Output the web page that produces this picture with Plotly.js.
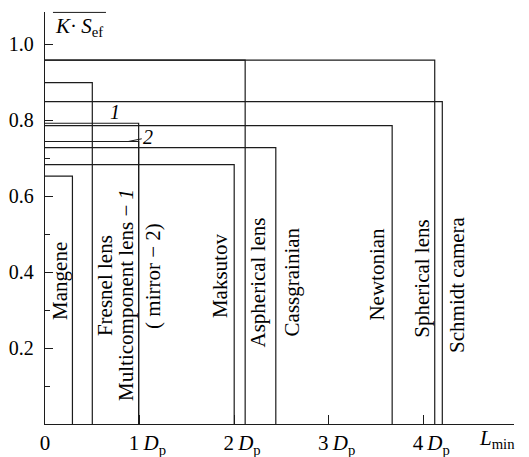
<!DOCTYPE html>
<html>
<head>
<meta charset="utf-8">
<script src="https://cdn.plot.ly/plotly-3.0.1.min.js"></script>
<style>html,body{margin:0;padding:0;background:#fff;}#chart{width:529px;height:457px;}</style>
</head>
<body>
<div id="chart"></div>
<script>
// ---- data ----
const systems = ["Mangene", "Fresnel lens", "Multicomponent lens", "Mirror", "Maksutov",
                 "Aspherical lens", "Cassgrainian", "Newtonian", "Spherical lens", "Schmidt camera"];
const lMin   = [0.29, 0.50, 0.99, 0.99, 2.00, 2.116, 2.44, 3.67, 4.12, 4.20];   // L_min in units of D_p
const kSef   = [0.653, 0.899, 0.792, 0.744, 0.683, 0.958, 0.728, 0.786, 0.958, 0.849]; // K·S_ef
const labelTexts = ["Mangene", "Fresnel lens", "Multicomponent lens − <i>1</i>", "( mirror − 2)", "Maksutov",
                    "Aspherical lens", "Cassgrainian", "Newtonian", "Spherical lens", "Schmidt camera"];
const xTickVals = [0, 1, 2, 3, 4];
const xTickText = ["0", "1\u2009<i>D</i><sub>p</sub>", "2\u2009<i>D</i><sub>p</sub>", "3\u2009<i>D</i><sub>p</sub>", "4\u2009<i>D</i><sub>p</sub>"];
const yTickVals = [0.2, 0.4, 0.6, 0.8, 1.0];
const yTickText = ["0.2", "0.4", "0.6", "0.8", "1.0"];

// ---- style / placement ----
const FONT = "Liberation Serif, Times New Roman, serif";
const INK = "#1c1c1c";
const X_MAX = 4.958, Y_MAX = 1.085;
const labelSide  = [-1, 1, -1, 1, -1, 1, 1, -1, -1, 1];       // left/right of own line
const labelShift = [12, 12, 12, 15, 14, 13, 16, 15, 13, 14];   // px from line
const labelMidY  = [0.378, 0.364, 0.339, 0.389, 0.390, 0.373, 0.375, 0.394, 0.382, 0.367];
const pad = "\u00a0\u00a0\u00a0";

const traces = systems.map((name, i) => ({
  type: "scatter", mode: "lines", name: name,
  x: [0, lMin[i], lMin[i]], y: [kSef[i], kSef[i], 0],
  line: {color: INK, width: 1.2}, hoverinfo: "skip", showlegend: false, cliponaxis: false
}));

const annotations = labelTexts.map((t, i) => ({
  xref: "x", yref: "y", x: lMin[i], y: labelMidY[i], xshift: labelSide[i] * labelShift[i],
  text: t, textangle: -90, showarrow: false, xanchor: "center", yanchor: "middle",
  font: {family: FONT, size: 21, color: "#000"}
}));
// curve numbers 1 and 2
annotations.push({xref: "x", yref: "y", x: lMin[2], y: kSef[2], xshift: -24, yshift: 11,
  text: "<i>1</i>", showarrow: false, font: {family: FONT, size: 20, color: "#000"}});
annotations.push({xref: "x", yref: "y", x: lMin[3] - 0.11, y: kSef[3], ax: 20, ay: -4,
  text: "<i>2</i>", showarrow: true, arrowhead: 0, arrowwidth: 1, arrowcolor: INK, standoff: 0,
  font: {family: FONT, size: 20, color: "#000"}});
// axis titles
annotations.push({xref: "paper", yref: "paper", x: 0.018, y: 1.0, xanchor: "left", yanchor: "top",
  text: "<i>K</i>·\u2009<i>S</i><sub>ef</sub>", showarrow: false, font: {family: FONT, size: 21, color: "#000"}});
annotations.push({xref: "paper", yref: "paper", x: 0.922, y: -0.036, xanchor: "left", yanchor: "middle",
  text: "<i>L</i><sub>min</sub>", showarrow: false, font: {family: FONT, size: 21, color: "#000"}});

const layout = {
  width: 529, height: 457,
  margin: {l: 45, r: 15, t: 12, b: 33, pad: 0},
  paper_bgcolor: "#fff", plot_bgcolor: "#fff",
  font: {family: FONT, size: 20, color: "#000"},
  xaxis: {range: [0, X_MAX], showgrid: false, zeroline: false, showline: true, linecolor: INK, linewidth: 1.2,
          ticks: "inside", ticklen: 9, tickwidth: 1, tickcolor: INK,
          tickmode: "array", tickvals: xTickVals, ticktext: xTickText.map((t, i) => i ? pad + t : t),
          tickfont: {family: FONT, size: 21, color: "#000"}},
  yaxis: {range: [0, Y_MAX], showgrid: false, zeroline: false, showline: true, linecolor: INK, linewidth: 1.2,
          ticks: "inside", ticklen: 8, tickwidth: 1, tickcolor: INK,
          tickmode: "array", tickvals: yTickVals, ticktext: yTickText,
          minor: {ticks: "inside", ticklen: 5, dtick: 0.1, tick0: 0, tickcolor: INK, tickwidth: 1},
          ticklabelstandoff: 6,
          tickfont: {family: FONT, size: 20, color: "#000"}},
  shapes: [{type: "line", xref: "paper", yref: "paper", x0: 0.017, x1: 0.13, y0: 0.999, y1: 0.999,
            line: {color: INK, width: 1}}],
  annotations: annotations,
  showlegend: false
};

Plotly.newPlot("chart", traces, layout, {displayModeBar: false, staticPlot: true});
</script>
</body>
</html>
